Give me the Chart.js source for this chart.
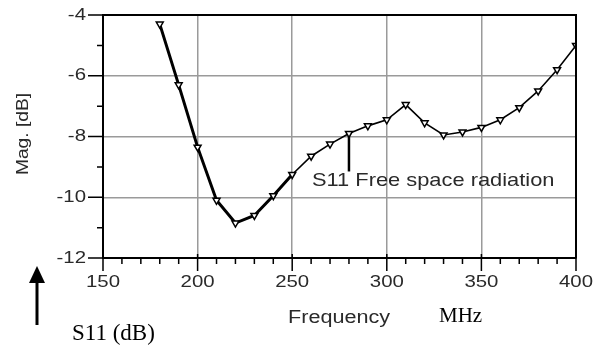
<!DOCTYPE html>
<html><head><meta charset="utf-8">
<script src="https://cdn.jsdelivr.net/npm/chart.js@4/dist/chart.umd.min.js"></script>
<style>html,body{margin:0;padding:0;background:#fff}#wrap{width:600px;height:345px}</style>
</head><body><div id="wrap"><canvas id="c" width="600" height="345"></canvas></div>
<script>
const freq = [180,190,200,210,220,230,240,250,260,270,280,290,300,310,320,330,340,350,360,370,380,390,400];
const s11  = [-4.3,-6.3,-8.35,-10.1,-10.85,-10.6,-9.95,-9.25,-8.65,-8.25,-7.9,-7.65,-7.45,-6.95,-7.55,-7.95,-7.85,-7.7,-7.45,-7.05,-6.5,-5.8,-5.0];
const xTickLabels = [150,200,250,300,350,400];
const yTickLabels = [-4,-6,-8,-10,-12];
const xMinorTicks = [160,170,180,190,210,220,230,240,260,270,280,290,310,320,330,340,360,370,380,390];
const yMinorTicks = [-5,-7,-9,-11];
const yTitle = 'Mag. [dB]';
const xTitle = 'Frequency';
const unitText = 'MHz';
const noteText = 'S11 Free space radiation';
const noteFreq = 280;
const sideLabel = 'S11 (dB)';

function stretchText(ctx, t, x, y, sx, align) {
  ctx.save();
  ctx.translate(x, y);
  ctx.scale(sx, 1);
  ctx.textAlign = align || 'left';
  ctx.fillText(t, 0, 0);
  ctx.restore();
}

const deco = {
  id: 'deco',
  afterDraw(chart) {
    const ctx = chart.ctx, a = chart.chartArea;
    const xs = chart.scales.x, ys = chart.scales.y;
    ctx.save();
    // frame
    ctx.strokeStyle = '#000'; ctx.lineWidth = 2;
    ctx.beginPath();
    ctx.moveTo(a.left, a.top); ctx.lineTo(a.right, a.top); ctx.lineTo(a.right, a.bottom);
    ctx.stroke();
    // ticks
    ctx.lineWidth = 1.5;
    ctx.beginPath();
    xTickLabels.forEach(v => { const p = xs.getPixelForValue(v); ctx.moveTo(p, a.bottom - 4); ctx.lineTo(p, a.bottom + 13); });
    xMinorTicks.forEach(v => { const p = xs.getPixelForValue(v); ctx.moveTo(p, a.bottom); ctx.lineTo(p, a.bottom + 6); });
    yTickLabels.forEach(v => { const p = ys.getPixelForValue(v); ctx.moveTo(a.left - 15, p); ctx.lineTo(a.left, p); });
    yMinorTicks.forEach(v => { const p = ys.getPixelForValue(v); ctx.moveTo(a.left - 6, p); ctx.lineTo(a.left, p); });
    ctx.stroke();
    // tick labels
    ctx.fillStyle = '#2a2a2a';
    ctx.font = '17px "Liberation Sans", Arial, sans-serif';
    ctx.textBaseline = 'middle';
    xTickLabels.forEach(v => stretchText(ctx, String(v), xs.getPixelForValue(v), a.bottom + 24, 1.2, 'center'));
    yTickLabels.forEach(v => stretchText(ctx, String(v), a.left - 17, ys.getPixelForValue(v), 1.2, 'right'));
    // axis titles
    ctx.font = '18px "Liberation Sans", Arial, sans-serif';
    stretchText(ctx, xTitle, 288, 318, 1.2, 'left');
    ctx.save();
    ctx.translate(24, 134);
    ctx.rotate(-Math.PI / 2);
    ctx.font = '16px "Liberation Sans", Arial, sans-serif';
    stretchText(ctx, yTitle, 0, 0, 1.2, 'center');
    ctx.restore();
    // annotation
    const idx = freq.indexOf(noteFreq);
    const nx = xs.getPixelForValue(noteFreq), ny = ys.getPixelForValue(s11[idx]);
    ctx.strokeStyle = '#000'; ctx.lineWidth = 2.5;
    ctx.beginPath(); ctx.moveTo(nx, ny + 3); ctx.lineTo(nx, ny + 38); ctx.stroke();
    ctx.font = '19px "Liberation Sans", Arial, sans-serif';
    ctx.textBaseline = 'alphabetic';
    stretchText(ctx, noteText, nx - 37, ny + 53, 1.15, 'left');
    // serif labels
    ctx.fillStyle = '#000';
    ctx.font = '21px "Liberation Serif", "Times New Roman", serif';
    ctx.textAlign = 'left';
    ctx.fillText(unitText, 439, 322);
    ctx.font = '23px "Liberation Serif", "Times New Roman", serif';
    ctx.fillText(sideLabel, 72, 340);
    // arrow
    ctx.lineWidth = 3;
    ctx.beginPath(); ctx.moveTo(37, 325); ctx.lineTo(37, 280); ctx.stroke();
    ctx.beginPath(); ctx.moveTo(37, 266); ctx.lineTo(45, 283); ctx.lineTo(29, 283); ctx.closePath(); ctx.fill();
    ctx.restore();
  }
};

new Chart(document.getElementById('c'), {
  type: 'line',
  data: {
    datasets: [{
      data: freq.map((f, i) => ({ x: f, y: s11[i] })),
      borderColor: '#000',
      borderWidth: 2,
      segment: { borderWidth: c => (c.p0.parsed.x < 250 ? 3 : 1.6) },
      pointStyle: 'triangle',
      rotation: 180,
      pointRadius: 4,
      pointBackgroundColor: '#fff',
      pointBorderColor: '#000',
      pointBorderWidth: 1.5,
      tension: 0
    }]
  },
  options: {
    responsive: false,
    animation: false,
    devicePixelRatio: 1,
    layout: { padding: { left: 0, top: 15, right: 24, bottom: 0 } },
    plugins: { legend: { display: false }, tooltip: { enabled: false } },
    scales: {
      x: {
        type: 'linear', min: 150, max: 400,
        afterFit: s => { s.height = 87; },
        ticks: { display: false, stepSize: 50 },
        grid: { color: '#9a9a9a', lineWidth: 1.5, drawTicks: false },
        border: { color: '#000', width: 2 }
      },
      y: {
        min: -12, max: -4,
        afterFit: s => { s.width = 103; },
        ticks: { display: false, stepSize: 2 },
        grid: { color: '#9a9a9a', lineWidth: 1.5, drawTicks: false },
        border: { color: '#000', width: 2 }
      }
    }
  },
  plugins: [deco]
});
</script>
</body></html>
